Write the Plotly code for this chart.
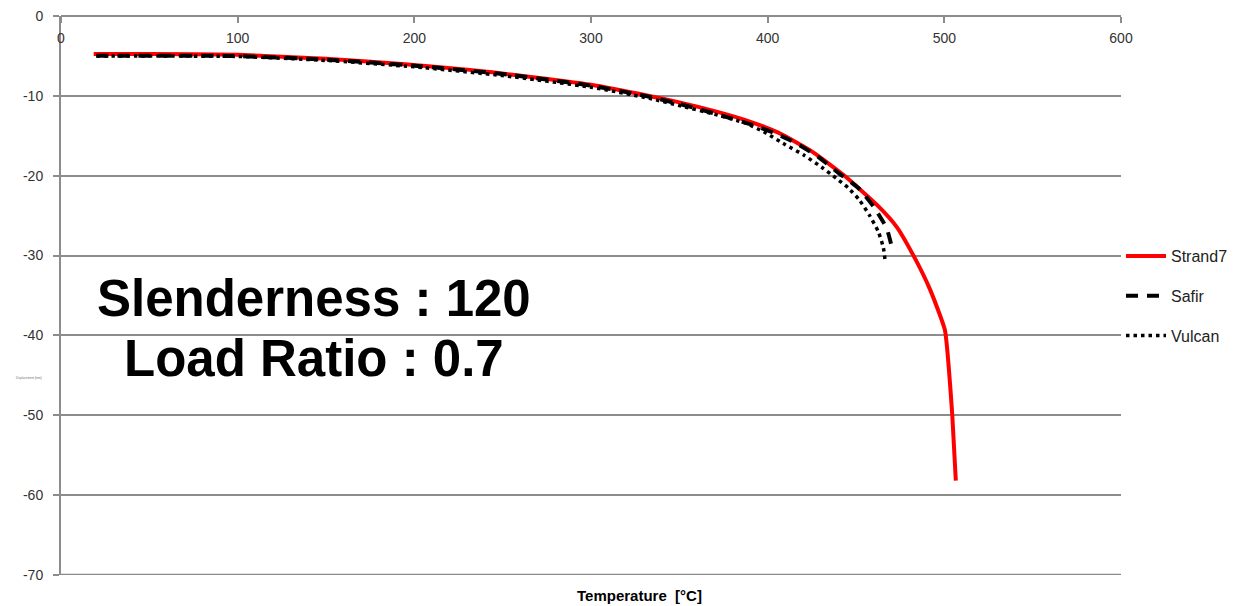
import plotly.graph_objects as go

# Strand7
strand7_T = [18.5, 50, 100, 150, 193, 230, 258, 300, 333, 350, 370, 387, 406, 426, 444, 463, 473, 483, 492, 500.3, 502.5, 504.5, 506.5]
strand7_d = [-4.75, -4.75, -4.85, -5.35, -6.0, -6.7, -7.4, -8.6, -10.0, -10.8, -11.9, -13.0, -14.6, -17.1, -20.1, -23.9, -26.4, -30.2, -34.3, -39.3, -44.0, -50.0, -58.2]

# Safir
safir_T = [20, 50, 100, 150, 200, 250, 300, 333, 350, 370, 391, 404.5, 416, 428.4, 440.4, 451.2, 460.4, 467.2, 468.5, 470.6]
safir_d = [-4.95, -4.95, -5.0, -5.45, -6.2, -7.25, -8.7, -10.1, -11.0, -12.2, -13.6, -14.7, -15.9, -17.6, -19.7, -21.5, -24.0, -26.5, -27.4, -29.2]

# Vulcan
vulcan_T = [20, 50, 100, 150, 200, 250, 300, 333, 350, 370, 387.3, 398.7, 410, 420.4, 431, 438.7, 445.5, 451.8, 457.5, 462.6, 465.5, 466.6]
vulcan_d = [-5.0, -5.0, -5.05, -5.55, -6.35, -7.45, -8.9, -10.3, -11.2, -12.3, -13.4, -14.6, -16.1, -17.4, -19.0, -20.3, -21.5, -23.0, -24.9, -27.0, -29.0, -30.9]

x_ticks = [0, 100, 200, 300, 400, 500, 600]
y_ticks = [0, -10, -20, -30, -40, -50, -60, -70]
y_labels = ["0", "-10", "-20", "-30", "-40", "-50", "-60", "-70"]

fig = go.Figure()
fig.add_trace(go.Scatter(x=strand7_T, y=strand7_d, mode="lines", name="Strand7",
                         line=dict(color="#ff0000", width=4, shape="spline", smoothing=0.5),
                         legendgroup="a"))
fig.add_trace(go.Scatter(x=safir_T, y=safir_d, mode="lines", name="Safir",
                         line=dict(color="#000000", width=4, dash="12px,9px", shape="spline", smoothing=0.5),
                         legendgroup="b"))
fig.add_trace(go.Scatter(x=vulcan_T, y=vulcan_d, mode="lines", name="Vulcan",
                         line=dict(color="#000000", width=3.5, dash="3.5px,4px", shape="spline", smoothing=0.5),
                         legendgroup="c"))

font_family = "Liberation Sans, Arial, sans-serif"

# page body has an 8px margin: compensate so the plot area lands at x 61..1113, y 16..575
fig.update_layout(
    width=1248, height=598,
    margin=dict(l=53, r=135, t=8, b=31, autoexpand=False),
    paper_bgcolor="white", plot_bgcolor="white",
    font=dict(family=font_family, size=14, color="#333333"),
    showlegend=True,
    legend=dict(x=1.0, y=0.499, xanchor="left", yanchor="middle",
                font=dict(size=16, color="#222222"), tracegroupgap=16,
                itemwidth=40, bgcolor="rgba(0,0,0,0)"),
    xaxis=dict(range=[0, 600], tickvals=x_ticks, side="bottom", anchor="free", position=1.0,
               ticks="outside", ticklen=6, tickcolor="#8c8c8c", tickwidth=2,
               ticklabelstandoff=3, automargin=False,
               showline=True, linecolor="#8c8c8c", linewidth=2,
               showgrid=False, zeroline=False,
               tickfont=dict(size=14, color="#333333")),
    yaxis=dict(range=[-70.03, 0.02], tickvals=y_ticks, ticktext=y_labels, ticks="outside", ticklen=6,
               tickcolor="#8c8c8c", tickwidth=2, automargin=False, ticklabelstandoff=7,
               showline=True, linecolor="#8c8c8c", linewidth=2,
               showgrid=True, gridcolor="#8c8c8c", gridwidth=2,
               zeroline=False, tickfont=dict(size=14, color="#333333")),
)

# bottom gridline (plotly drops the gridline at the range edge)
fig.add_shape(type="line", xref="paper", yref="y", x0=0, x1=1,
              y0=y_ticks[-1], y1=y_ticks[-1], line=dict(color="#8c8c8c", width=2), layer="below")

fig.add_annotation(text="<b>Slenderness : 120</b>", xref="paper", yref="paper",
                   x=0.2386, y=0.4955, xanchor="center", yanchor="middle", showarrow=False,
                   font=dict(size=51, color="black", family=font_family))
fig.add_annotation(text="<b>Load Ratio : 0.7</b>", xref="paper", yref="paper",
                   x=0.2386, y=0.388, xanchor="center", yanchor="middle", showarrow=False,
                   font=dict(size=51, color="black", family=font_family))
fig.add_annotation(text="<b>Temperature  [°C]</b>", xref="paper", yref="paper",
                   x=0.5456, y=0, yshift=-20, xanchor="center", yanchor="middle", showarrow=False,
                   font=dict(size=15, color="black", family=font_family))
fig.add_annotation(text="Displacement [mm]", xref="paper", yref="paper",
                   x=-0.0447, y=0.352, showarrow=False,
                   font=dict(size=3, color="#777777", family=font_family))
fig.add_shape(type="rect", xref="paper", yref="paper", x0=1.1322, x1=1.14, y0=-0.06, y1=1.03,
              fillcolor="#e2e2e2", line=dict(width=0), layer="below")

fig.write_html("out.html")
